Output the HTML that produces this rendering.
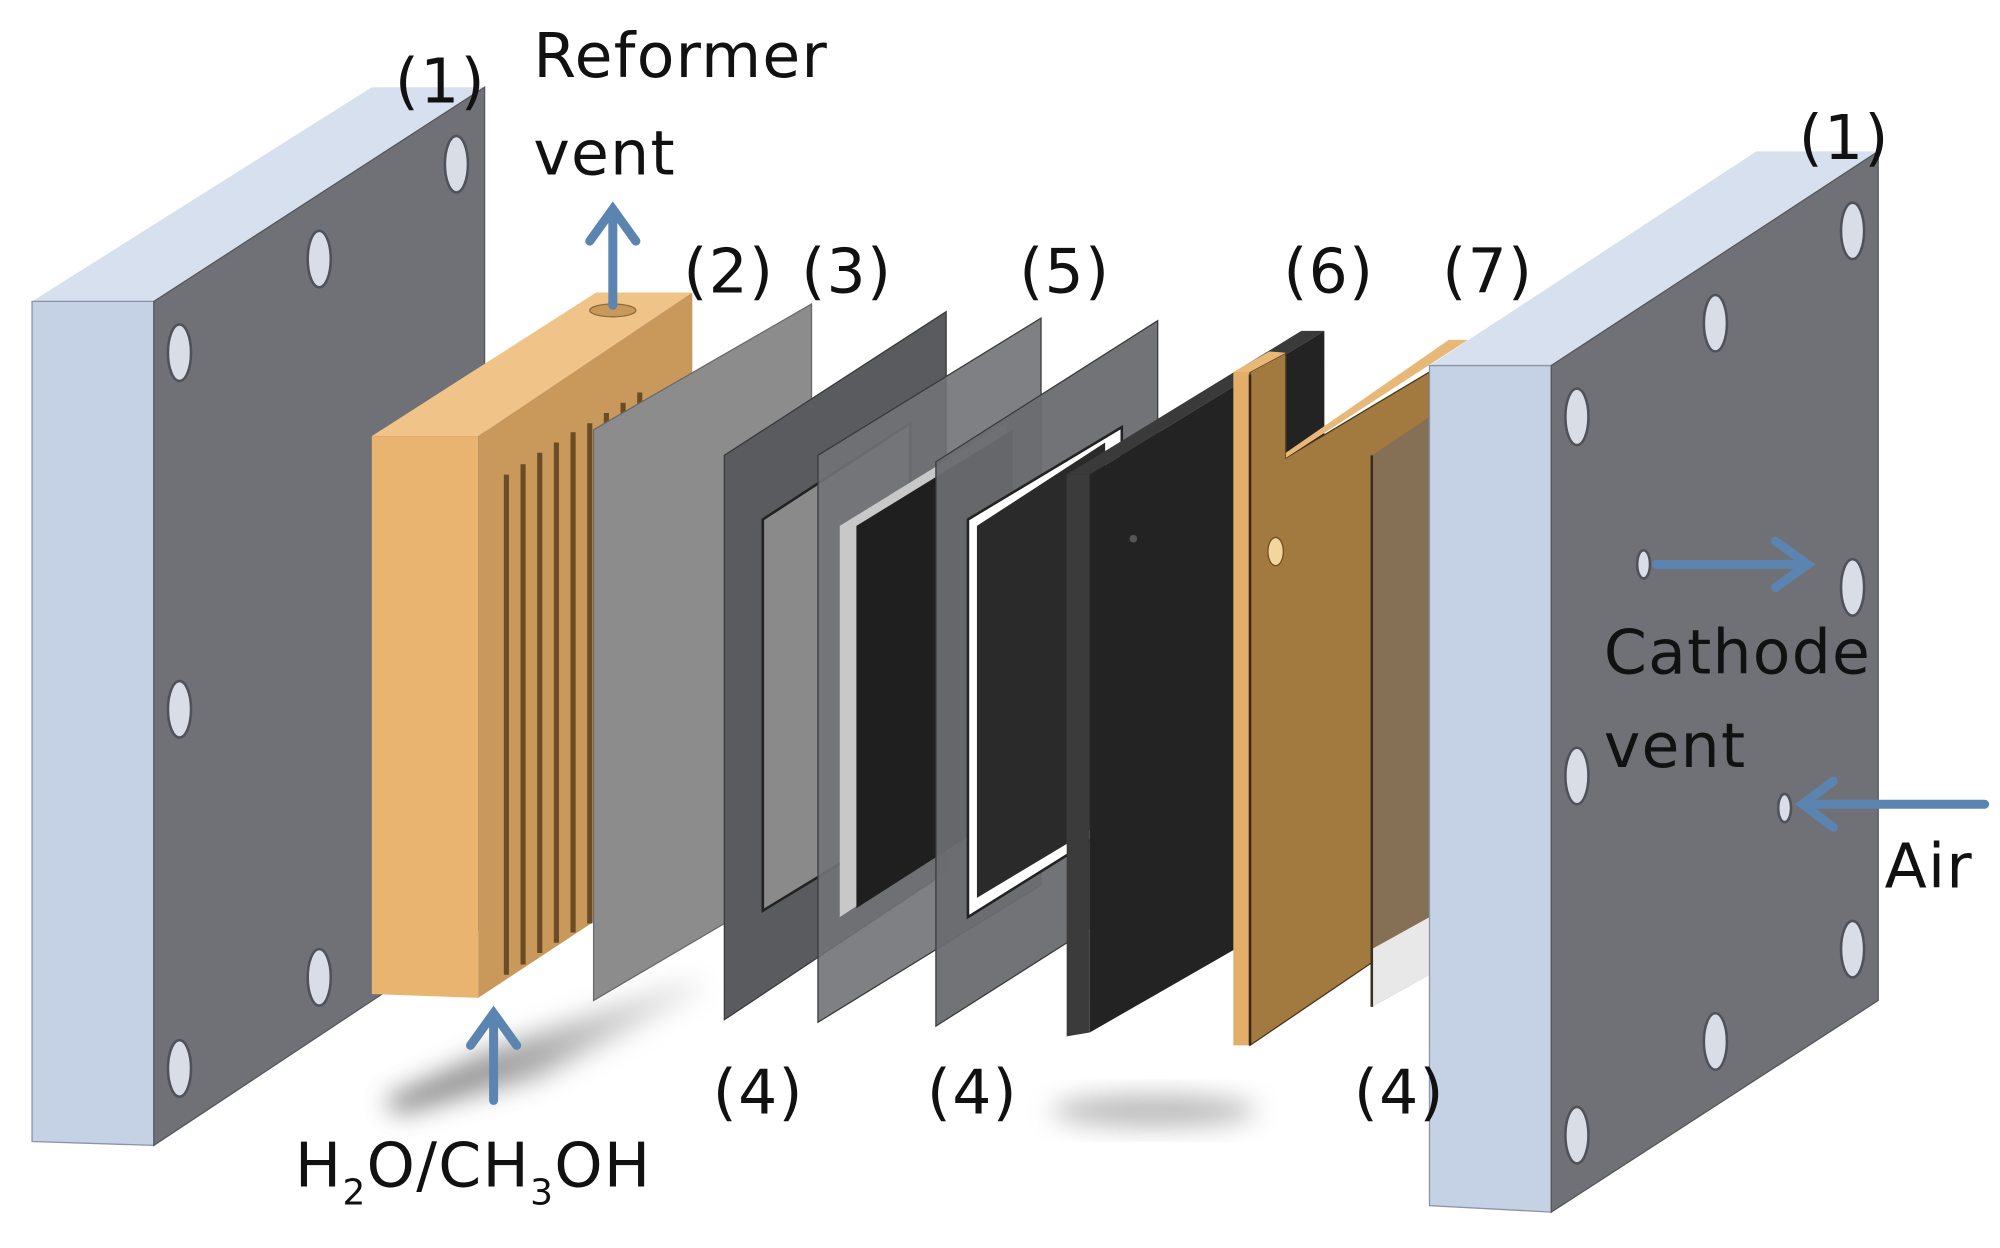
<!DOCTYPE html>
<html><head><meta charset="utf-8"><style>html,body{margin:0;padding:0;background:#fff}svg{display:block}</style></head><body>
<svg width="2000" height="1248" viewBox="0 0 1560 973" preserveAspectRatio="none" xmlns="http://www.w3.org/2000/svg">
<defs>
<filter id="bl" x="-50%" y="-50%" width="200%" height="200%"><feGaussianBlur stdDeviation="10"/></filter>
<linearGradient id="sh2" x1="0" y1="0" x2="1" y2="0"><stop offset="0" stop-color="#555"/><stop offset="0.5" stop-color="#999"/><stop offset="1" stop-color="#eee"/></linearGradient>
</defs>
<rect width="1560" height="973" fill="#fff"/>
<!-- shadows -->
<polygon points="300,858 380,820 540,762 550,772 420,840 310,868" fill="url(#sh2)" filter="url(#bl)" opacity="0.8"/>
<ellipse cx="900" cy="866" rx="80" ry="12" fill="#999" filter="url(#bl)" opacity="0.7"/>
<!-- left plate -->
<polygon points="25,235 290,68 378,68 120,235" fill="#d7e0ee"/>
<polygon points="25,235 120,235 120,893 25,890" fill="#c5d1e4" stroke="#8a94a3" stroke-width="1"/>
<polygon points="120,235 378,68 378,722 120,893" fill="#6f7176" stroke="#55575b" stroke-width="1"/>
<g fill="#d9dee6" stroke="#50525a" stroke-width="2">
<ellipse cx="356" cy="128" rx="9" ry="22"/><ellipse cx="249" cy="202" rx="9" ry="22"/><ellipse cx="140" cy="275" rx="9" ry="22"/>
<ellipse cx="140" cy="553" rx="9" ry="22"/><ellipse cx="249" cy="762" rx="9" ry="22"/><ellipse cx="140" cy="833" rx="9" ry="22"/>
</g>
<!-- orange block -->
<polygon points="290,340 465,228 540,228 373,340" fill="#f0c488"/>
<polygon points="290,340 373,340 373,778 290,775" fill="#e9b46f"/>
<polygon points="373,340 540,228 540,668 373,778" fill="#c9995c"/>
<g stroke="#6b4c26" stroke-width="4">
<line x1="395" y1="370" x2="395" y2="760"/><line x1="408" y1="362" x2="408" y2="752"/><line x1="421" y1="353" x2="421" y2="743"/><line x1="434" y1="345" x2="434" y2="735"/><line x1="447" y1="337" x2="447" y2="727"/><line x1="460" y1="330" x2="460" y2="720"/><line x1="473" y1="322" x2="473" y2="700"/><line x1="486" y1="314" x2="486" y2="690"/><line x1="499" y1="306" x2="499" y2="680"/>
</g>
<ellipse cx="478" cy="242" rx="18" ry="5" fill="#c9995c" stroke="#8a6a3a"/>
<!-- sheet 2 -->
<polygon points="463,335 633,237 633,680 463,780" fill="#8c8c8c" stroke="#6a6a6a"/>
<!-- frame 4 -->
<polygon points="565,355 738,243 738,680 565,795" fill="#595b5f" stroke="#3a3a3a"/>
<polygon points="595,405 710,330 710,640 595,710" fill="#8a8a8a" stroke="#222" stroke-width="2"/>
<!-- 3 MEA -->
<polygon points="638,355 812,248 812,690 638,797" fill="#707276" fill-opacity="0.9" stroke="#3a3a3a"/>
<polygon points="655,410 785,330 785,630 655,715" fill="#c8c8c8"/>
<polygon points="668,410 790,335 790,630 668,708" fill="#1f1f1f"/>
<!-- frame 4 second -->
<polygon points="730,360 903,250 903,690 730,800" fill="#6a6c70" fill-opacity="0.95" stroke="#3a3a3a"/>
<polygon points="755,405 875,333 875,640 755,715" fill="#fff" stroke="#222" stroke-width="2"/>
<polygon points="762,410 862,345 862,640 762,700" fill="#2a2a2a"/>
<!-- 6 black plate -->
<polygon points="832,370 1015,258 1033,258 850,370" fill="#3a3a3a"/>
<polygon points="832,370 850,370 850,805 832,808" fill="#3b3b3b"/>
<polygon points="850,370 1033,258 1033,700 850,805" fill="#232323"/>
<circle cx="884" cy="420" r="3" fill="#555"/>
<!-- 7 orange plate -->
<polygon points="962,290 975,290 975,815 962,815" fill="#e2ae6a"/>
<polygon points="975,290 1003,275 1003,357 1115,290 1115,720 975,815" fill="#a2793f" stroke="#4a3418"/>
<polygon points="962,290 990,274 1003,275 975,290" fill="#e8b878"/>
<polygon points="1003,353 1130,265 1145,265 1003,357" fill="#e8b878"/>
<line x1="975" y1="292" x2="975" y2="815" stroke="#3a2810" stroke-width="2"/>
<ellipse cx="995" cy="430" rx="6" ry="11" fill="#f3d69c" stroke="#6c4f26"/>
<!-- 4 third -->
<polygon points="1070,355 1115,325 1115,760 1070,785" fill="#857055"/>
<polygon points="1070,740 1115,715 1115,760 1070,785" fill="#e8e8e8"/>
<line x1="1070" y1="355" x2="1070" y2="785" stroke="#3a3020" stroke-width="2"/>
<!-- right plate -->
<polygon points="1115,285 1370,118 1465,118 1210,285" fill="#d7e0ee"/>
<polygon points="1115,285 1210,285 1210,945 1115,940" fill="#c5d1e4" stroke="#8a94a3"/>
<polygon points="1210,285 1465,118 1465,780 1210,945" fill="#6f7176" stroke="#55575b"/>
<g fill="#d9dee6" stroke="#50525a" stroke-width="2">
<ellipse cx="1445" cy="180" rx="9" ry="22"/><ellipse cx="1338" cy="252" rx="9" ry="22"/><ellipse cx="1230" cy="325" rx="9" ry="22"/>
<ellipse cx="1445" cy="458" rx="9" ry="22"/><ellipse cx="1230" cy="605" rx="9" ry="22"/><ellipse cx="1445" cy="740" rx="9" ry="22"/>
<ellipse cx="1338" cy="812" rx="9" ry="22"/><ellipse cx="1230" cy="885" rx="9" ry="22"/>
<ellipse cx="1282" cy="440" rx="5" ry="11"/><ellipse cx="1392" cy="630" rx="5" ry="11"/>
</g>
<!-- arrows -->
<g stroke="#5b84b1" stroke-width="7" fill="none" stroke-linecap="round">
<line x1="478" y1="238" x2="478" y2="165"/><polyline points="460,188 478,163 496,188"/>
<line x1="385" y1="858" x2="385" y2="792"/><polyline points="367,815 385,790 403,815"/>
<line x1="1292" y1="440" x2="1408" y2="440"/><polyline points="1385,422 1410,440 1385,458"/>
<line x1="1548" y1="627" x2="1408" y2="627"/><polyline points="1430,609 1406,627 1430,645"/>
</g>
<!-- labels -->
<g font-family="'DejaVu Sans','Liberation Sans',sans-serif" font-size="48" fill="#111" letter-spacing="1">
<text x="308" y="80">(1)</text>
<text x="416" y="60">Reformer</text>
<text x="416" y="136">vent</text>
<text x="533" y="228">(2)</text>
<text x="625" y="228">(3)</text>
<text x="795" y="228">(5)</text>
<text x="1001" y="228">(6)</text>
<text x="1125" y="228">(7)</text>
<text x="1403" y="124">(1)</text>
<text x="1251" y="525">Cathode</text>
<text x="1251" y="598">vent</text>
<text x="1470" y="692">Air</text>
<text x="556" y="868">(4)</text>
<text x="723" y="868">(4)</text>
<text x="1056" y="868">(4)</text>
<text x="230" y="925">H<tspan font-size="28" dy="14">2</tspan><tspan dy="-14">O/CH</tspan><tspan font-size="28" dy="14">3</tspan><tspan dy="-14">OH</tspan></text>
</g>
</svg>
</body></html>
